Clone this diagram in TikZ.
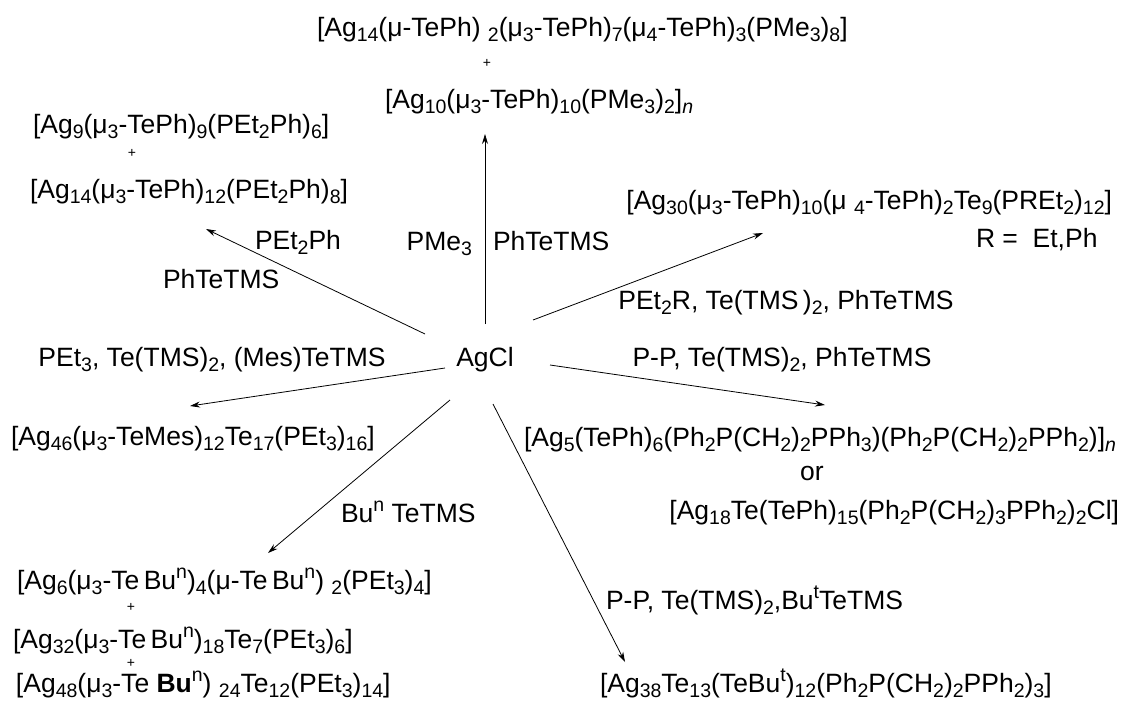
\documentclass[tikz,border=0pt]{standalone}
\usepackage{fontspec}
\setmainfont{Liberation Sans}
\usetikzlibrary{arrows.meta}
\newcommand\lo[1]{\raisebox{-0.2em}{\fontsize{19.5}{19.5}\selectfont #1}}
\newcommand\hi[1]{\raisebox{0.4em}{\fontsize{19.5}{19.5}\selectfont #1}}
\begin{document}
\begin{tikzpicture}[x=1pt,y=-1pt,
  every node/.style={inner sep=0pt,outer sep=0pt,font=\fontsize{26.5}{30}\selectfont},
  plus/.style={font=\fontsize{14}{14}\selectfont},
  arr/.style={-{Stealth[length=10pt,width=6pt]},line width=0.8pt}]
\fill[white] (0,0) rectangle (1130,702);
\path[use as bounding box] (0,0) rectangle (1130,702);
% centre
\node[anchor=base] (agcl) at (485,366) {AgCl};
% top products
\node[anchor=base west] (t1) at (317,36) {[Ag\lo{14}(μ-TePh) \lo{2}(μ\lo{3}-TePh)\lo{7}(μ\lo{4}-TePh)\lo{3}(PMe\lo{3})\lo{8}]};
\node[plus] (p1) at (487,63) {+};
\node[anchor=base west] (t3) at (385,108) {[Ag\lo{10}(μ\lo{3}-TePh)\lo{10}(PMe\lo{3})\lo{2}]\lo{\itshape n}};
% upper left products
\node[anchor=base west] (l1) at (33,133) {[Ag\lo{9}(μ\lo{3}-TePh)\lo{9}(PEt\lo{2}Ph)\lo{6}]};
\node[plus] (p2) at (132,153) {+};
\node[anchor=base west] (l3) at (30,198) {[Ag\lo{14}(μ\lo{3}-TePh)\lo{12}(PEt\lo{2}Ph)\lo{8}]};
% upper right products
\node[anchor=base east] (r1) at (1112,209) {[Ag\lo{30}(μ\lo{3}-TePh)\lo{10}(μ \lo{4}-TePh)\lo{2}Te\lo{9}(PREt\lo{2})\lo{12}]};
\node[anchor=base west] (r2) at (976,247) {R =\ \ Et,Ph};
% reagent labels
\node[anchor=base west] (c1) at (255,249) {PEt\lo{2}Ph};
\node[anchor=base west] (c2) at (163,288) {PhTeTMS};
\node[anchor=base east] (c3) at (472,250) {PMe\lo{3}};
\node[anchor=base west] (c4) at (493,250) {PhTeTMS};
\node[anchor=base] (c5) at (786,309) {PEt\lo{2}R, Te(TMS\,)\lo{2}, PhTeTMS};
\node[anchor=base] (c6) at (212,366) {PEt\lo{3}, Te(TMS)\lo{2}, (Mes)TeTMS};
\node[anchor=base] (c7) at (782,366) {P-P, Te(TMS)\lo{2}, PhTeTMS};
\node[anchor=base west] (c8) at (341,522) {Bu\hi{n} TeTMS};
\node[anchor=base west] (c9) at (606,609) {P-P, Te(TMS)\lo{2},Bu\hi{t}TeTMS};
% left products
\node[anchor=base west] (b1) at (11,445) {[Ag\lo{46}(μ\lo{3}-TeMes)\lo{12}Te\lo{17}(PEt\lo{3})\lo{16}]};
\node[anchor=base west] (b2) at (17,589) {[Ag\lo{6}(μ\lo{3}-Te\,Bu\hi{n})\lo{4}(μ-Te\,Bu\hi{n}) \lo{2}(PEt\lo{3})\lo{4}]};
\node[plus] (p3) at (131,607) {+};
\node[anchor=base west] (b3) at (13,648) {[Ag\lo{32}(μ\lo{3}-Te\,Bu\hi{n})\lo{18}Te\lo{7}(PEt\lo{3})\lo{6}]};
\node[plus] (p4) at (131,663) {+};
\node[anchor=base west] (b4) at (16,692) {[Ag\lo{48}(μ\lo{3}-Te \textbf{Bu}\hi{n}) \lo{24}Te\lo{12}(PEt\lo{3})\lo{14}]};
% right products
\node[anchor=base east] (d1) at (1116,446) {[Ag\lo{5}(TePh)\lo{6}(Ph\lo{2}P(CH\lo{2})\lo{2}PPh\lo{3})(Ph\lo{2}P(CH\lo{2})\lo{2}PPh\lo{2})]\lo{\itshape n}};
\node[anchor=base] (d2) at (812,480) {or};
\node[anchor=base east] (d3) at (1119,519) {[Ag\lo{18}Te(TePh)\lo{15}(Ph\lo{2}P(CH\lo{2})\lo{3}PPh\lo{2})\lo{2}Cl]};
\node[anchor=base west] (d4) at (600,692) {[Ag\lo{38}Te\lo{13}(TeBu\hi{t})\lo{12}(Ph\lo{2}P(CH\lo{2})\lo{2}PPh\lo{2})\lo{3}]};
% arrow ends
\coordinate (sU) at (485,324);  \coordinate (eU) at (485,134);
\coordinate (sUL) at (425,334); \coordinate (eUL) at (206,229);
\coordinate (sUR) at (533,320); \coordinate (eUR) at (763,233);
\coordinate (sL) at (445,368);  \coordinate (eL) at (190,406);
\coordinate (sR) at (550,365);  \coordinate (eR) at (825,405);
\coordinate (sDL) at (450,400); \coordinate (eDL) at (268,553);
\coordinate (sDR) at (493,404); \coordinate (eDR) at (625,662);
\draw[arr] (sU) -- (eU);
\draw[arr] (sUL) -- (eUL);
\draw[arr] (sUR) -- (eUR);
\draw[arr] (sL) -- (eL);
\draw[arr] (sR) -- (eR);
\draw[arr] (sDL) -- (eDL);
\draw[arr] (sDR) -- (eDR);
\end{tikzpicture}
\end{document}
